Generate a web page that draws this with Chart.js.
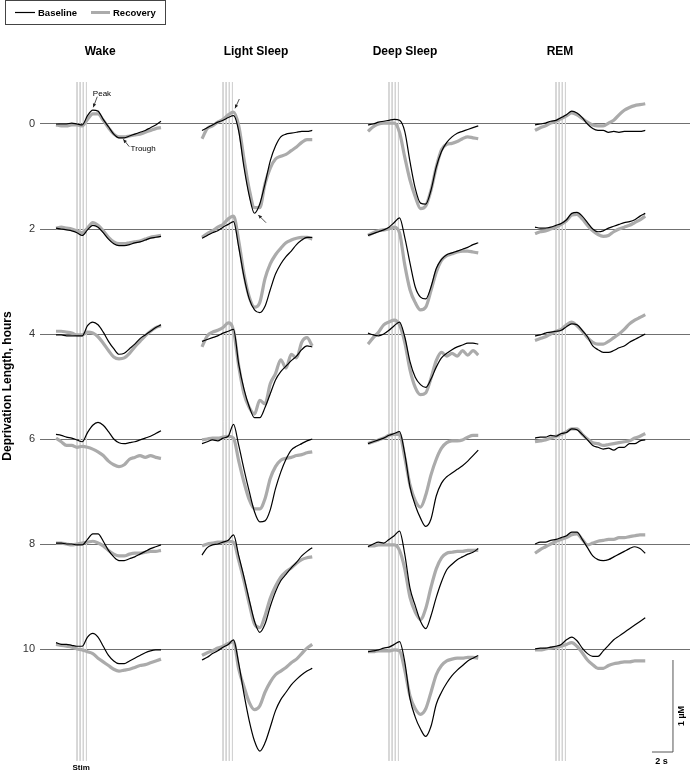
<!DOCTYPE html>
<html><head><meta charset="utf-8">
<script src="https://cdn.jsdelivr.net/npm/chart.js@4"></script>
<style>html,body{margin:0;padding:0;background:#fff;}canvas{display:block;}</style>
</head><body>
<canvas id="c" width="690" height="772"></canvas>
<script>
// ---------- DATA ----------
const columnTitles = ['Wake', 'Light Sleep', 'Deep Sleep', 'REM'];
const rowHours = [0, 2, 4, 6, 8, 10];               // deprivation length (tick labels)
const timeSec = [-2, -1.5, -1, -0.5, 0, 0.5, 1, 1.5, 2, 2.5, 3, 3.5, 4, 4.5, 5, 5.5, 6, 6.5, 7, 7.5, 8, 8.5];
const stimTimes = [0, 0.3, 0.6, 0.9];                // stimulation pulses, s
// dopamine change, µM relative to each trace's pre-stim level (rows: 0,2,4,6,8,10 h)
const wakeBaseline = [
 [0, 0, 0, 0.01, 0, -0.01, 0.09, 0.15, 0.14, 0.05, -0.03, -0.11, -0.15, -0.15, -0.13, -0.11, -0.09, -0.07, -0.04, -0.01, 0.03],
 [0.01, 0, -0.01, -0.02, -0.04, -0.07, -0.01, 0.04, 0.02, -0.04, -0.11, -0.16, -0.18, -0.18, -0.17, -0.15, -0.14, -0.12, -0.10, -0.09, -0.08],
 [-0.01, -0.01, -0.02, -0.02, -0.02, -0.02, 0.09, 0.13, 0.10, 0.02, -0.08, -0.16, -0.22, -0.21, -0.16, -0.11, -0.05, -0.01, 0.03, 0.07, 0.10],
 [0.05, 0.04, 0.02, 0.01, -0.01, -0.03, 0.07, 0.15, 0.18, 0.15, 0.08, 0, -0.04, -0.05, -0.04, -0.03, -0.01, 0.01, 0.03, 0.06, 0.09],
 [0.01, 0.01, 0, 0, -0.01, -0.01, 0.05, 0.11, 0.11, 0.03, -0.07, -0.14, -0.18, -0.18, -0.16, -0.14, -0.11, -0.08, -0.05, -0.03, -0.01],
 [0.07, 0.05, 0.05, 0.04, 0.03, 0.03, 0.13, 0.17, 0.13, 0.03, -0.07, -0.13, -0.16, -0.16, -0.13, -0.10, -0.07, -0.04, -0.02, -0.01, -0.01]
];
const wakeRecovery = [
 [-0.01, -0.02, -0.02, -0.01, -0.01, -0.02, 0.05, 0.11, 0.11, 0.04, -0.04, -0.11, -0.14, -0.14, -0.13, -0.12, -0.11, -0.09, -0.07, -0.05, -0.04],
 [0.01, 0.02, 0.01, 0, -0.02, -0.04, 0.01, 0.07, 0.04, -0.02, -0.09, -0.14, -0.16, -0.16, -0.15, -0.14, -0.13, -0.11, -0.09, -0.08, -0.07],
 [0.03, 0.03, 0.02, 0.01, -0.01, -0.01, 0.02, 0.01, -0.03, -0.10, -0.18, -0.25, -0.27, -0.26, -0.21, -0.14, -0.08, -0.02, 0.03, 0.07, 0.09],
 [0.01, -0.03, -0.07, -0.07, -0.09, -0.08, -0.09, -0.11, -0.14, -0.18, -0.24, -0.28, -0.30, -0.28, -0.22, -0.20, -0.18, -0.20, -0.18, -0.20, -0.21],
 [0.01, 0.01, 0, -0.01, 0, 0.01, 0.02, 0.03, 0.01, -0.02, -0.07, -0.11, -0.13, -0.13, -0.11, -0.10, -0.10, -0.09, -0.08, -0.08, -0.07],
 [0.05, 0.04, 0.03, 0.02, 0, -0.01, -0.03, -0.05, -0.10, -0.14, -0.18, -0.22, -0.24, -0.23, -0.22, -0.20, -0.18, -0.17, -0.15, -0.13, -0.11]
];
const lightBaseline = [
 [-0.07, -0.04, -0.01, 0.02, 0.04, 0.07, 0.09, -0.08, -0.47, -0.78, -0.97, -0.87, -0.65, -0.40, -0.24, -0.14, -0.11, -0.10, -0.09, -0.08, -0.08, -0.07],
 [-0.10, -0.07, -0.04, -0.02, 0.02, 0.05, 0.08, -0.20, -0.52, -0.76, -0.88, -0.91, -0.84, -0.66, -0.49, -0.38, -0.30, -0.24, -0.17, -0.12, -0.09, -0.09],
 [-0.08, -0.06, -0.04, -0.02, 0.01, 0.03, 0.05, -0.33, -0.60, -0.79, -0.91, -0.91, -0.80, -0.65, -0.50, -0.41, -0.35, -0.29, -0.24, -0.17, -0.13, -0.14],
 [-0.05, -0.03, -0.01, -0.02, 0.01, 0.03, 0.16, -0.07, -0.33, -0.57, -0.79, -0.90, -0.89, -0.77, -0.54, -0.36, -0.22, -0.12, -0.08, -0.05, -0.02, 0],
 [-0.12, -0.04, -0.01, 0, 0.02, 0.04, 0.10, -0.13, -0.36, -0.61, -0.84, -0.96, -0.87, -0.68, -0.52, -0.40, -0.33, -0.26, -0.20, -0.13, -0.08, -0.04],
 [-0.12, -0.09, -0.05, -0.02, 0.02, 0.05, 0.10, -0.16, -0.49, -0.78, -1.00, -1.11, -1.02, -0.85, -0.67, -0.55, -0.47, -0.39, -0.33, -0.28, -0.24, -0.21]
];
const lightRecovery = [
 [-0.16, -0.05, -0.02, 0.02, 0.05, 0.10, 0.13, -0.02, -0.38, -0.71, -0.91, -0.91, -0.65, -0.48, -0.38, -0.35, -0.33, -0.29, -0.25, -0.20, -0.17, -0.17],
 [-0.09, -0.05, -0.02, 0.02, 0.05, 0.11, 0.14, -0.13, -0.49, -0.74, -0.85, -0.80, -0.54, -0.38, -0.28, -0.21, -0.15, -0.12, -0.10, -0.09, -0.09, -0.11],
 [-0.14, -0.02, 0.02, 0.04, 0.07, 0.12, 0.04, -0.35, -0.65, -0.80, -0.87, -0.72, -0.76, -0.54, -0.43, -0.28, -0.37, -0.22, -0.26, -0.09, -0.04, -0.13],
 [-0.01, 0, 0.01, 0.01, 0.02, 0.03, 0.01, -0.24, -0.47, -0.66, -0.76, -0.76, -0.65, -0.43, -0.30, -0.23, -0.21, -0.20, -0.18, -0.17, -0.15, -0.14],
 [-0.02, 0, 0.01, 0.02, 0.02, 0.03, 0.02, -0.18, -0.40, -0.65, -0.87, -0.91, -0.78, -0.59, -0.46, -0.36, -0.30, -0.26, -0.21, -0.17, -0.15, -0.14],
 [-0.07, -0.04, -0.02, 0.01, 0.03, 0.06, 0.08, -0.22, -0.41, -0.58, -0.66, -0.62, -0.47, -0.36, -0.28, -0.24, -0.20, -0.15, -0.11, -0.05, 0.01, 0.05]
];
const deepBaseline = [
 [-0.01, 0, 0.02, 0.03, 0.04, 0.05, 0.04, -0.08, -0.41, -0.70, -0.86, -0.87, -0.72, -0.47, -0.30, -0.20, -0.14, -0.10, -0.08, -0.06, -0.04, -0.02],
 [-0.07, -0.05, -0.03, -0.01, 0.02, 0.07, 0.12, -0.09, -0.37, -0.63, -0.74, -0.76, -0.63, -0.43, -0.33, -0.28, -0.26, -0.24, -0.22, -0.20, -0.17, -0.15],
 [0.01, -0.01, -0.02, 0, 0.04, 0.09, 0.13, -0.03, -0.30, -0.47, -0.55, -0.58, -0.49, -0.36, -0.26, -0.21, -0.17, -0.14, -0.12, -0.10, -0.10, -0.11],
 [-0.05, -0.03, -0.01, 0.01, 0.04, 0.06, 0.08, -0.16, -0.52, -0.72, -0.86, -0.95, -0.87, -0.62, -0.48, -0.41, -0.37, -0.33, -0.29, -0.24, -0.18, -0.12],
 [-0.03, 0, 0.02, 0.01, 0.05, 0.09, 0.14, -0.11, -0.48, -0.67, -0.84, -0.92, -0.78, -0.58, -0.41, -0.28, -0.22, -0.17, -0.14, -0.11, -0.09, -0.05],
 [-0.03, -0.02, -0.01, 0.01, 0.02, 0.05, 0.08, -0.14, -0.54, -0.74, -0.87, -0.95, -0.84, -0.60, -0.47, -0.37, -0.29, -0.23, -0.18, -0.13, -0.10, -0.07]
];
const deepRecovery = [
 [-0.08, -0.03, 0, 0.01, 0.01, 0.01, -0.09, -0.36, -0.61, -0.79, -0.92, -0.89, -0.72, -0.47, -0.28, -0.22, -0.21, -0.19, -0.16, -0.14, -0.15, -0.16],
 [-0.07, -0.04, -0.02, -0.01, 0, 0.02, -0.04, -0.39, -0.66, -0.80, -0.88, -0.85, -0.67, -0.47, -0.34, -0.29, -0.27, -0.25, -0.24, -0.24, -0.25, -0.26],
 [-0.11, -0.04, 0.02, 0.10, 0.13, 0.15, 0.10, -0.09, -0.39, -0.58, -0.66, -0.64, -0.48, -0.29, -0.20, -0.24, -0.21, -0.24, -0.18, -0.23, -0.18, -0.23],
 [-0.05, -0.03, -0.01, 0.01, 0.04, 0.05, 0.05, -0.20, -0.50, -0.67, -0.74, -0.61, -0.39, -0.22, -0.10, -0.04, -0.02, -0.02, -0.01, 0.02, 0.04, 0.04],
 [-0.02, -0.02, -0.01, -0.01, -0.01, -0.01, -0.07, -0.27, -0.58, -0.74, -0.82, -0.70, -0.47, -0.27, -0.15, -0.10, -0.09, -0.08, -0.08, -0.07, -0.07, -0.07],
 [-0.03, -0.03, -0.02, -0.02, -0.02, -0.01, -0.02, -0.23, -0.51, -0.65, -0.71, -0.65, -0.47, -0.28, -0.18, -0.13, -0.11, -0.10, -0.10, -0.09, -0.09, -0.10]
];
const remBaseline = [
 [-0.01, 0, 0.01, 0.03, 0.04, 0.07, 0.10, 0.14, 0.12, 0.07, 0, -0.05, -0.07, -0.07, -0.09, -0.08, -0.09, -0.08, -0.08, -0.08, -0.08, -0.07],
 [0.02, 0.01, 0.01, 0.02, 0.04, 0.06, 0.10, 0.17, 0.18, 0.14, 0.07, 0, -0.03, -0.02, 0.01, 0.03, 0.05, 0.07, 0.08, 0.10, 0.14, 0.17],
 [-0.02, -0.01, 0.01, 0.02, 0.03, 0.04, 0.08, 0.11, 0.10, 0.04, -0.03, -0.13, -0.17, -0.20, -0.20, -0.18, -0.15, -0.13, -0.09, -0.06, -0.03, 0],
 [0.01, 0.02, 0.02, 0.04, 0.03, 0.06, 0.07, 0.11, 0.10, 0.05, -0.01, -0.07, -0.09, -0.11, -0.10, -0.12, -0.09, -0.09, -0.05, -0.05, -0.02, -0.01],
 [0, 0.02, 0.02, 0.04, 0.05, 0.07, 0.09, 0.13, 0.13, 0.05, -0.04, -0.13, -0.17, -0.18, -0.17, -0.14, -0.11, -0.08, -0.05, -0.03, -0.05, -0.10],
 [0, 0.01, 0.01, 0.02, 0.03, 0.05, 0.10, 0.13, 0.09, 0.01, -0.05, -0.08, -0.08, -0.02, 0.04, 0.10, 0.14, 0.18, 0.22, 0.26, 0.30, 0.34]
];
const remRecovery = [
 [-0.07, -0.04, -0.02, 0.01, 0.03, 0.06, 0.09, 0.12, 0.10, 0.06, 0.02, -0.01, -0.02, -0.02, 0.01, 0.04, 0.10, 0.15, 0.18, 0.20, 0.21, 0.22],
 [-0.05, -0.03, -0.02, 0, 0.02, 0.05, 0.09, 0.15, 0.16, 0.11, 0.04, -0.02, -0.06, -0.08, -0.07, -0.03, 0, 0.02, 0.04, 0.07, 0.10, 0.14],
 [-0.07, -0.05, -0.03, 0, 0.03, 0.05, 0.10, 0.13, 0.09, 0.03, -0.04, -0.09, -0.11, -0.11, -0.08, -0.04, 0, 0.05, 0.11, 0.15, 0.18, 0.21],
 [-0.03, -0.02, -0.01, 0.01, 0.03, 0.05, 0.08, 0.11, 0.11, 0.05, 0, -0.04, -0.05, -0.07, -0.06, -0.05, -0.04, -0.03, -0.02, 0.01, 0.03, 0.06],
 [-0.10, -0.06, -0.03, 0, 0.03, 0.05, 0.07, 0.10, 0.11, 0.05, -0.01, 0.01, 0.03, 0.04, 0.05, 0.05, 0.07, 0.07, 0.08, 0.09, 0.10, 0.10],
 [-0.01, -0.01, 0, 0.01, 0.02, 0.03, 0.05, 0.07, 0.03, -0.04, -0.12, -0.17, -0.21, -0.21, -0.18, -0.16, -0.15, -0.14, -0.14, -0.13, -0.13, -0.13]
];
const scaleBarUM = 1, scaleBarSec = 2;

// ---------- LAYOUT ----------
const PX_PER_SEC = 10.5, PX_PER_HOUR = 52.5, PX_PER_UM = 92;
const HOURS_PER_UM = PX_PER_UM / PX_PER_HOUR;
const AXIS_W = 40, STIM0_PX = 77, ROW0_PX = 124, W = 690, H = 772;
const X_MIN = (AXIS_W - STIM0_PX) / PX_PER_SEC, X_MAX = X_MIN + (W - AXIS_W) / PX_PER_SEC;
const Y_MIN = -ROW0_PX / PX_PER_HOUR, Y_MAX = (H - ROW0_PX) / PX_PER_HOUR;
const columnStimSec = [0, 13.905, 29.714, 45.619];
const titleXSec = [2.2, 17.05, 31.24, 46.0];
const STIM_TOP = -0.8, STIM_BOTTOM = 12.13;
const SB_X = 56.76, SB_BOTTOM = 11.962;
const FONT = "'Liberation Sans', Arial, sans-serif";

const colSeries = [[wakeBaseline, wakeRecovery], [lightBaseline, lightRecovery],
                   [deepBaseline, deepRecovery], [remBaseline, remRecovery]];

function trace(vals, off, row) {
  return vals.map((v, i) => ({ x: off + timeSec[i], y: rowHours[row] - v * HOURS_PER_UM }));
}

const datasets = [];
columnStimSec.forEach(off => {
  stimTimes.forEach(st => datasets.push({
    data: [{ x: off + st, y: STIM_TOP }, { x: off + st, y: STIM_BOTTOM }],
    borderColor: '#d2d2d2', borderWidth: 1, order: 3
  }));
});
colSeries.forEach(([base, rec], c) => {
  const off = columnStimSec[c];
  rowHours.forEach((h, r) => {
    datasets.push({ label: 'Recovery', data: trace(rec[r], off, r), borderColor: '#ababab',
      borderWidth: 3.2, cubicInterpolationMode: 'monotone', order: 1 });
    datasets.push({ label: 'Baseline', data: trace(base[r], off, r), borderColor: '#000',
      borderWidth: 1.2, cubicInterpolationMode: 'monotone', order: 0 });
  });
});
datasets.push({
  data: [{ x: SB_X - scaleBarSec, y: SB_BOTTOM }, { x: SB_X, y: SB_BOTTOM },
         { x: SB_X, y: SB_BOTTOM - scaleBarUM * HOURS_PER_UM }],
  borderColor: '#555', borderWidth: 1, order: 2
});

const arrows = [
  [1.93, -0.52, 1.55, -0.318], [4.98, 0.432, 4.41, 0.291],
  [15.46, -0.476, 15.05, -0.299], [18.0, 1.88, 17.27, 1.733]
];

const overlay = {
  id: 'overlay',
  afterDraw(chart) {
    const { ctx, scales: { x, y } } = chart;
    const px = v => x.getPixelForValue(v), py = v => y.getPixelForValue(v);
    ctx.save();
    ctx.fillStyle = '#000';
    ctx.textAlign = 'center'; ctx.textBaseline = 'middle';
    ctx.font = 'bold 12px ' + FONT;
    columnTitles.forEach((t, i) => ctx.fillText(t, px(titleXSec[i]), 52));
    // annotations
    ctx.font = '8px ' + FONT;
    ctx.fillText('Peak', px(2.38), py(-0.571));
    ctx.fillText('Trough', px(6.3), py(0.476));
    ctx.strokeStyle = '#222'; ctx.lineWidth = 0.8;
    arrows.forEach(([a, b, c2, d]) => {
      const x1 = px(a), y1 = py(b), x2 = px(c2), y2 = py(d);
      ctx.beginPath(); ctx.moveTo(x1, y1); ctx.lineTo(x2, y2); ctx.stroke();
      const ang = Math.atan2(y2 - y1, x2 - x1), L = 4;
      ctx.beginPath(); ctx.moveTo(x2, y2);
      ctx.lineTo(x2 - L * Math.cos(ang - 0.45), y2 - L * Math.sin(ang - 0.45));
      ctx.lineTo(x2 - L * Math.cos(ang + 0.45), y2 - L * Math.sin(ang + 0.45));
      ctx.closePath(); ctx.fillStyle = '#222'; ctx.fill();
    });
    ctx.fillStyle = '#000';
    ctx.font = 'bold 8px ' + FONT;
    ctx.fillText('Stim', px(0.4), 768);
    // scale bar labels
    ctx.font = 'bold 9px ' + FONT;
    ctx.fillText(scaleBarSec + ' s', px(SB_X - scaleBarSec / 2) - 1, 762);
    ctx.save();
    ctx.translate(682, 716); ctx.rotate(-Math.PI / 2);
    ctx.fillText(scaleBarUM + ' \u00b5M', 0, 0);
    ctx.restore();
    // legend
    ctx.strokeStyle = '#444'; ctx.lineWidth = 1;
    ctx.strokeRect(5.5, 0.5, 160, 24);
    ctx.beginPath(); ctx.moveTo(15, 12.5); ctx.lineTo(35, 12.5);
    ctx.strokeStyle = '#000'; ctx.lineWidth = 1.2; ctx.stroke();
    ctx.beginPath(); ctx.moveTo(91, 12.5); ctx.lineTo(110, 12.5);
    ctx.strokeStyle = '#ababab'; ctx.lineWidth = 3; ctx.stroke();
    ctx.textAlign = 'left';
    ctx.font = 'bold 9.5px ' + FONT;
    ctx.fillText('Baseline', 38, 13);
    ctx.fillText('Recovery', 113, 13);
    ctx.restore();
  }
};

Chart.defaults.font.family = FONT;
new Chart(document.getElementById('c'), {
  type: 'line',
  data: { datasets },
  options: {
    responsive: false, animation: false, devicePixelRatio: 1,
    layout: { padding: 0 },
    elements: { point: { radius: 0 }, line: { tension: 0 } },
    plugins: { legend: { display: false }, tooltip: { enabled: false } },
    scales: {
      x: { type: 'linear', display: false, min: X_MIN, max: X_MAX },
      y: {
        type: 'linear', reverse: true, min: Y_MIN, max: Y_MAX,
        afterFit: s => { s.width = AXIS_W; s.paddingTop = 0; s.paddingBottom = 0; },
        afterBuildTicks: s => { s.ticks = rowHours.map(v => ({ value: v })); },
        ticks: { padding: 5, color: '#333', font: { size: 11 }, callback: v => String(v) },
        grid: { color: '#707070', lineWidth: 1, drawTicks: false },
        border: { display: false },
        title: { display: true, text: 'Deprivation Length, hours', color: '#000',
                 font: { size: 12, weight: 'bold' }, padding: 0 }
      }
    }
  },
  plugins: [overlay]
});
</script></body></html>
